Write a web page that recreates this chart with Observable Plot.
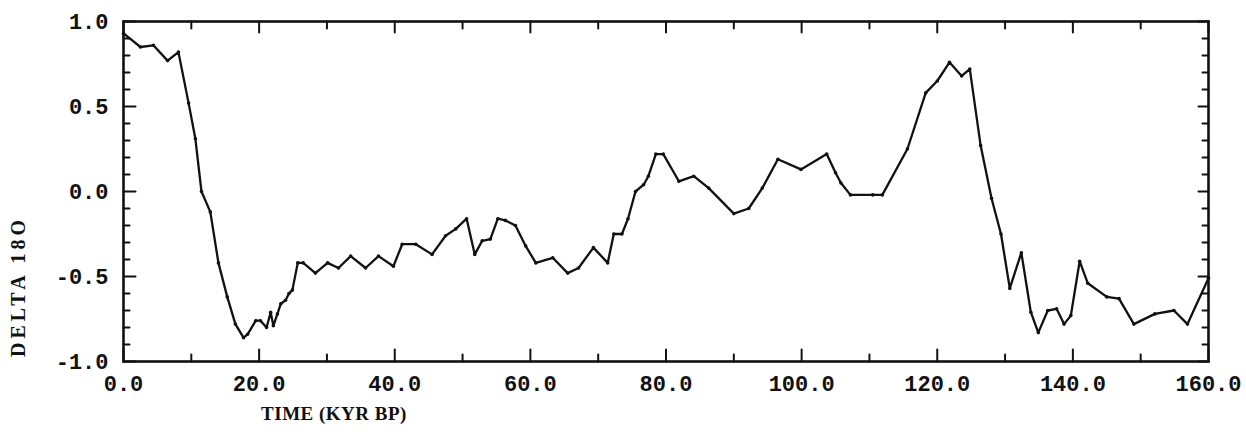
<!DOCTYPE html>
<html><head><meta charset="utf-8">
<script src="https://cdn.jsdelivr.net/npm/d3@7"></script>
<script src="https://cdn.jsdelivr.net/npm/@observablehq/plot@0.6"></script>
<style>body{margin:0;background:#fff}</style>
</head><body><div id="chart"></div>
<script>
const timeKyr = [0.0, 2.5, 4.4, 6.5, 8.1, 9.6, 10.6, 11.5, 12.8, 14.0, 15.3, 16.5, 17.7, 18.3, 19.5, 20.2, 21.1, 21.7, 22.1, 22.7, 23.2, 23.9, 24.4, 24.9, 25.7, 26.5, 28.3, 30.1, 31.7, 33.5, 35.7, 37.6, 39.8, 41.1, 43.1, 45.5, 47.5, 49.0, 50.6, 51.8, 52.9, 54.1, 55.2, 56.3, 57.8, 59.3, 60.8, 63.3, 65.5, 67.1, 69.3, 71.4, 72.3, 73.5, 74.4, 75.5, 76.7, 77.4, 78.5, 79.6, 81.9, 84.1, 86.3, 90.0, 92.2, 94.2, 96.5, 99.9, 103.7, 105.0, 105.8, 107.2, 110.5, 111.9, 115.6, 118.3, 120.0, 121.8, 123.6, 124.8, 126.4, 128.0, 129.4, 130.7, 132.4, 133.8, 134.9, 136.3, 137.6, 138.7, 139.7, 141.0, 142.2, 145.0, 146.8, 149.0, 152.1, 154.9, 156.9, 160.0];
const delta18O = [0.93, 0.85, 0.86, 0.77, 0.82, 0.52, 0.31, 0.00, -0.12, -0.42, -0.62, -0.78, -0.86, -0.84, -0.76, -0.76, -0.80, -0.71, -0.79, -0.72, -0.66, -0.64, -0.60, -0.58, -0.42, -0.42, -0.48, -0.42, -0.45, -0.38, -0.45, -0.38, -0.44, -0.31, -0.31, -0.37, -0.26, -0.22, -0.16, -0.37, -0.29, -0.28, -0.16, -0.17, -0.20, -0.32, -0.42, -0.39, -0.48, -0.45, -0.33, -0.42, -0.25, -0.25, -0.16, 0.00, 0.04, 0.09, 0.22, 0.22, 0.06, 0.09, 0.02, -0.13, -0.10, 0.02, 0.19, 0.13, 0.22, 0.11, 0.05, -0.02, -0.02, -0.02, 0.25, 0.58, 0.65, 0.76, 0.68, 0.72, 0.27, -0.04, -0.25, -0.57, -0.36, -0.71, -0.83, -0.70, -0.69, -0.78, -0.73, -0.41, -0.54, -0.62, -0.63, -0.78, -0.72, -0.70, -0.78, -0.51];

const xMajorTicks = [0, 20, 40, 60, 80, 100, 120, 140, 160];
const xTickLabels = ["0.0", "20.0", "40.0", "60.0", "80.0", "100.0", "120.0", "140.0", "160.0"];
const xMinorTicks = [10, 30, 50, 70, 90, 110, 130, 150];
const yMajorTicks = [-1, -0.5, 0, 0.5, 1];
const yTickLabels = ["-1.0", "-0.5", "0.0", "0.5", "1.0"];
const yMinorTicks = [-0.9, -0.8, -0.7, -0.6, -0.4, -0.3, -0.2, -0.1, 0.1, 0.2, 0.3, 0.4, 0.6, 0.7, 0.8, 0.9];
const xTitle = "TIME (KYR BP)";
const yTitle = "DELTA 18O";

const data = timeKyr.map((t, i) => ({t, d: delta18O[i]}));

// a plain straight tick, drawn inward from the frame edge
const tickShape = {draw(context, l) { context.moveTo(0, 0); context.lineTo(0, -l); }};
const xTick = (ticks, side, len) => Plot.vector(ticks, {
  x: d => d, frameAnchor: side, rotate: side === "bottom" ? 0 : 180, length: len,
  anchor: "start", shape: tickShape, stroke: "#111", strokeWidth: 2
});
const yTick = (ticks, side, len) => Plot.vector(ticks, {
  y: d => d, frameAnchor: side, rotate: side === "left" ? 90 : -90, length: len,
  anchor: "start", shape: tickShape, stroke: "#111", strokeWidth: 2
});

const chart = Plot.plot({
  width: 1246,
  height: 439,
  marginLeft: 123,
  marginRight: 38,
  marginTop: 21,
  marginBottom: 78,
  x: {domain: [0, 160]},
  y: {domain: [-1, 1]},
  style: {fontFamily: "'Liberation Mono', monospace", fontWeight: "bold", background: "#fff", color: "#111"},
  marks: [
    xTick(xMajorTicks, "bottom", 12),
    xTick(xMinorTicks, "bottom", 7),
    xTick(xMajorTicks, "top", 11),
    xTick(xMinorTicks, "top", 7),
    yTick(yMajorTicks, "left", 12),
    yTick(yMinorTicks, "left", 6),
    yTick(yMajorTicks, "right", 10),
    yTick(yMinorTicks, "right", 6),
    Plot.axisX(xMajorTicks, {anchor: "bottom", tickSize: 0, tickPadding: 14, fontSize: 22, label: null,
      tickFormat: d => xTickLabels[xMajorTicks.indexOf(d)]}),
    Plot.axisY(yMajorTicks, {anchor: "left", tickSize: 0, tickPadding: 15, fontSize: 22, label: null,
      tickFormat: d => yTickLabels[yMajorTicks.indexOf(d)]}),
    Plot.frame({strokeWidth: 2.6, stroke: "#111"}),
    Plot.line(data, {x: "t", y: "d", strokeWidth: 2.3, stroke: "#111"}),
    Plot.dot(data, {x: "t", y: "d", r: 1.8, fill: "#111"}),
    Plot.text([yTitle], {frameAnchor: "left", dx: -105, dy: 95, rotate: -90, textAnchor: "middle", lineAnchor: "middle",
      fontFamily: "'Liberation Serif', serif", fontWeight: "bold", fontSize: 20}),
    Plot.text([xTitle], {frameAnchor: "bottom", dx: -332, dy: 52, textAnchor: "middle", lineAnchor: "middle",
      fontFamily: "'Liberation Serif', serif", fontWeight: "bold", fontSize: 19})
  ]
});
d3.select(chart).selectAll("text").each(function() {
  const t = this.textContent;
  if (t === yTitle) this.setAttribute("letter-spacing", "4");
  if (t === xTitle) this.setAttribute("letter-spacing", "0.5");
});
document.getElementById("chart").appendChild(chart);
</script>
</body></html>
